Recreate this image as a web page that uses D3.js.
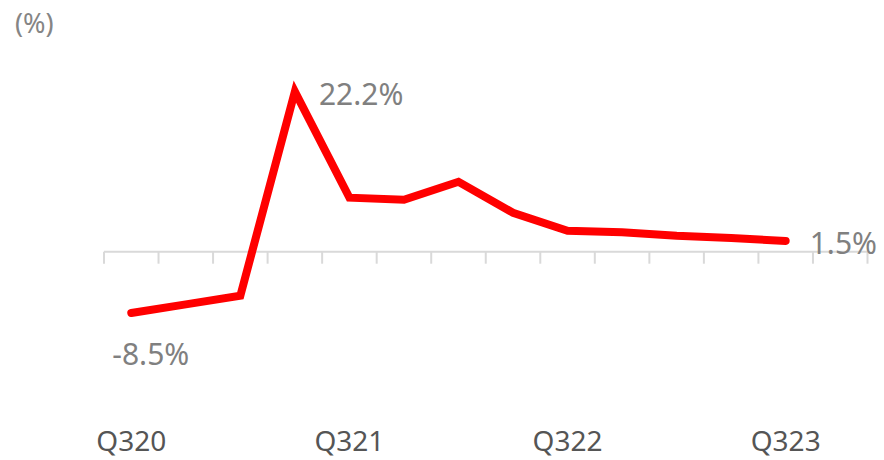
<!DOCTYPE html>
<html>
<head>
<meta charset="utf-8">
<script src="https://cdn.jsdelivr.net/npm/d3@7"></script>
<style>
  html, body { margin: 0; padding: 0; background: #fff; }
  svg { display: block; font-family: "Noto Sans", "Open Sans", sans-serif; }
</style>
</head>
<body>
<svg id="chart" width="884" height="460"></svg>
<script>
// Quarterly growth rate, Q3 2020 – Q3 2023 (%)
const quarters = ["Q320", "Q420", "Q121", "Q221", "Q321", "Q421", "Q122", "Q222", "Q322", "Q422", "Q123", "Q223", "Q323"];
const growth = [-8.5, -7.3, -6.1, 22.2, 7.5, 7.2, 9.7, 5.4, 2.9, 2.7, 2.2, 1.9, 1.5];
// The axis keeps one empty slot after the last quarter
const axisSlots = [...quarters, "Q423"];
const axisLabels = ["Q320", "Q321", "Q322", "Q323"];
const labelled = { "Q320": "-8.5%", "Q221": "22.2%", "Q323": "1.5%" };

const svg = d3.select("#chart");

const x = d3.scaleBand().domain(axisSlots).range([104, 867.5]).padding(0);
const y = d3.scaleLinear().domain([-15, 25]).range([359.85, 71.45]);
const cx = q => x(q) + x.bandwidth() / 2;

// unit label
svg.append("text")
  .attr("x", 15).attr("y", 33)
  .attr("font-size", 27).attr("fill", "#858585")
  .text("(%)");

// zero baseline with tick marks at slot boundaries
const y0 = y(0);
const axis = svg.append("g").attr("class", "x-axis");
axis.append("line")
  .attr("x1", x.range()[0]).attr("x2", x.range()[1])
  .attr("y1", y0).attr("y2", y0)
  .attr("stroke", "#d9d9d9").attr("stroke-width", 2);
const edges = axisSlots.map(q => x(q)).concat([x.range()[1]]);
axis.selectAll("line.tick").data(edges).join("line")
  .attr("class", "tick")
  .attr("x1", d => d).attr("x2", d => d)
  .attr("y1", y0).attr("y2", y0 + 12)
  .attr("stroke", "#d9d9d9").attr("stroke-width", 2);

// category labels
svg.append("g").selectAll("text").data(axisLabels).join("text")
  .attr("x", d => cx(d)).attr("y", 451)
  .attr("text-anchor", "middle")
  .attr("font-size", 28).attr("fill", "#555")
  .text(d => d);

// growth line
const data = quarters.map((q, i) => ({ q, v: growth[i] }));
const line = d3.line().x(d => cx(d.q)).y(d => y(d.v));
svg.append("path")
  .datum(data)
  .attr("d", line)
  .attr("fill", "none")
  .attr("stroke", "#ff0000")
  .attr("stroke-width", 8)
  .attr("stroke-linecap", "round")
  .attr("stroke-linejoin", "miter");

// value labels
const vl = svg.append("g").attr("font-size", 30).attr("fill", "#808080");
data.filter(d => labelled[d.q]).forEach(d => {
  const below = d.v < 0;
  vl.append("text")
    .attr("x", cx(d.q) + (below ? -19 : 24))
    .attr("y", y(d.v) + (below ? 52 : 13))
    .text(labelled[d.q]);
});
</script>
</body>
</html>
